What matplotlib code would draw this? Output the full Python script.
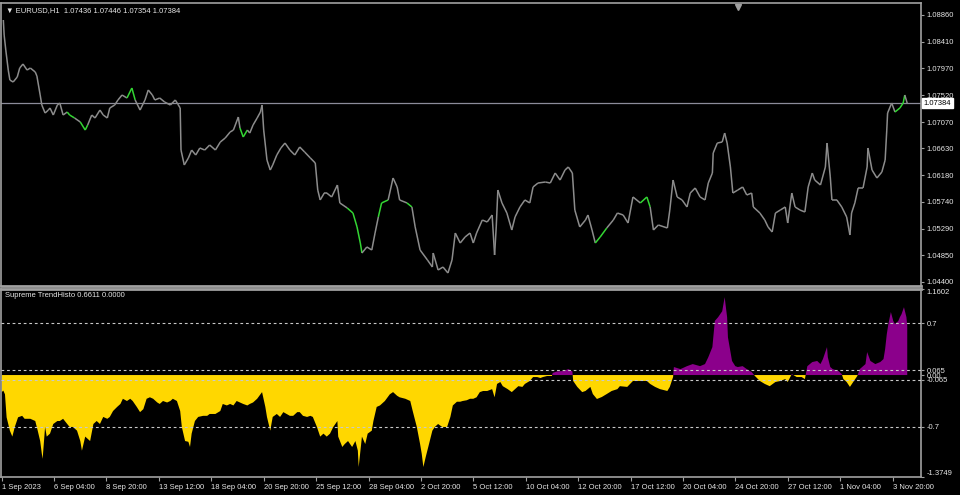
import matplotlib
matplotlib.use('Agg')
import numpy as np
import matplotlib.pyplot as plt
from matplotlib.collections import LineCollection

plt.rcParams['font.family'] = ['Liberation Sans', 'DejaVu Sans']
plt.rcParams['font.size'] = 5.5

## Donnees : prix EURUSD H1 (index de barre horaire) et histogramme

price_bar = [2, 3, 5, 8, 10, 14, 19, 22, 26, 31, 35, 41, 43, 47, 49, 53, 57, 59, 63, 68,
             71, 75, 80, 83, 89, 96, 102, 105, 110, 114, 120, 124, 129, 132, 138, 142, 147, 153, 159, 163,
             169, 175, 179, 184, 187, 193, 199, 206, 212, 215, 218, 219, 223, 228, 232, 237, 242, 248, 254, 261,
             267, 273, 279, 283, 289, 291, 295, 300, 303, 307, 312, 316, 318, 320, 324, 328, 331, 336, 341, 346,
             352, 358, 364, 370, 377, 383, 386, 389, 394, 397, 403, 410, 413, 422, 429, 434, 438, 440, 446, 452,
             456, 460, 464, 472, 478, 483, 486, 495, 501, 505, 511, 520, 526, 527, 533, 539, 545, 550, 554, 560,
             566, 572, 576, 580, 587, 593, 599, 602, 604, 606, 611, 617, 623, 627, 633, 639, 645, 649, 655, 664,
             670, 676, 682, 688, 692, 697, 700, 706, 713, 716, 721, 725, 731, 739, 747, 752, 759, 765, 771, 780,
             788, 792, 796, 802, 813, 816, 820, 825, 831, 837, 841, 847, 853, 859, 863, 868, 869, 874, 880, 883,
             886, 890, 893, 899, 905, 910, 916, 918, 926, 932, 936, 941, 945, 951, 957, 960, 965, 969, 975, 981,
             985, 990, 993, 1000, 1006, 1008, 1012, 1014, 1020, 1026, 1032, 1036, 1038, 1042, 1046, 1052, 1057, 1058, 1063, 1069,
             1075, 1079, 1081, 1082, 1087, 1091, 1097, 1101, 1103, 1106]

price = [1.08776, 1.08525, 1.08275, 1.0794, 1.07773, 1.0774, 1.07824, 1.07974, 1.08041, 1.0794,
         1.07974, 1.07907, 1.0784, 1.07523, 1.07356, 1.07222, 1.07272, 1.07306, 1.07189, 1.07356,
         1.07389, 1.07189, 1.07239, 1.07189, 1.07139, 1.07072, 1.06938, 1.07022, 1.07189, 1.07139,
         1.07272, 1.07189, 1.07139, 1.07306, 1.07356, 1.0744, 1.07523, 1.07473, 1.0764, 1.0744,
         1.07272, 1.0744, 1.07607, 1.07523, 1.0744, 1.07473, 1.07406, 1.07356, 1.0744, 1.07373,
         1.07306, 1.06604, 1.06354, 1.06471, 1.06604, 1.06521, 1.06638, 1.06604, 1.06688, 1.06604,
         1.06738, 1.06805, 1.06905, 1.06938, 1.07156, 1.06972, 1.06822, 1.06938, 1.06888, 1.07022,
         1.07139, 1.07239, 1.07356, 1.06938, 1.06437, 1.0627, 1.06354, 1.06521, 1.06638, 1.06721,
         1.06604, 1.06521, 1.06655, 1.06571, 1.06471, 1.06387, 1.05936, 1.0577, 1.05886, 1.05886,
         1.0582, 1.0602, 1.0572, 1.05636, 1.05552, 1.05319, 1.05051, 1.04884, 1.04985, 1.04934,
         1.05218, 1.05486, 1.0572, 1.0577, 1.06137, 1.05987, 1.0577, 1.0572, 1.05653, 1.05319,
         1.04934, 1.04767, 1.0465, 1.04884, 1.046, 1.0465, 1.0455, 1.04767, 1.05218, 1.05051,
         1.05152, 1.05218, 1.05051, 1.05218, 1.05435, 1.05402, 1.05519, 1.04851, 1.05319, 1.05936,
         1.0572, 1.05552, 1.05268, 1.05486, 1.05653, 1.0577, 1.0572, 1.05987, 1.06053, 1.0607,
         1.06053, 1.0622, 1.06103, 1.0627, 1.06321, 1.0622, 1.05602, 1.05319, 1.05435, 1.05519,
         1.05268, 1.05051, 1.05152, 1.05302, 1.05435, 1.05552, 1.05519, 1.05385, 1.0582, 1.0572,
         1.0582, 1.05653, 1.05268, 1.05352, 1.05302, 1.05602, 1.06103, 1.0582, 1.0577, 1.05653,
         1.05886, 1.0597, 1.0582, 1.0577, 1.06053, 1.0622, 1.06554, 1.06721, 1.06738, 1.06888,
         1.06721, 1.06321, 1.05886, 1.05936, 1.05987, 1.05853, 1.05886, 1.05653, 1.05552, 1.05435,
         1.05319, 1.05235, 1.05552, 1.05602, 1.05653, 1.05385, 1.05886, 1.05653, 1.05602, 1.05569,
         1.05987, 1.0622, 1.06103, 1.0602, 1.06321, 1.06721, 1.06154, 1.0577, 1.0577, 1.05653,
         1.05486, 1.05185, 1.05552, 1.0572, 1.0597, 1.0597, 1.06321, 1.06638, 1.0627, 1.06137,
         1.06237, 1.06437, 1.06938, 1.07222, 1.07389, 1.07239, 1.07306, 1.07389, 1.07523, 1.07384]

# zones ou la courbe est verte
green_ranges = [(80, 86), (99, 104), (153, 159), (294, 297), (423, 432), (433, 439),
                (464, 471), (495, 499), (730, 735), (786, 790), (1095, 1101)]

histo_bar = [0, 2, 4, 6, 10, 13, 16, 20, 25, 28, 35, 41, 44, 47, 49, 50, 53, 55, 59, 63,
             68, 71, 75, 80, 83, 87, 92, 96, 98, 102, 108, 112, 116, 120, 124, 129, 132, 136, 141, 145,
             148, 153, 157, 160, 165, 169, 173, 177, 181, 185, 190, 193, 197, 202, 206, 209, 214, 218, 220, 224,
             228, 230, 232, 236, 240, 246, 251, 254, 261, 267, 270, 275, 279, 283, 287, 291, 295, 300, 303, 307,
             312, 316, 318, 322, 324, 328, 331, 336, 340, 344, 348, 352, 356, 361, 364, 368, 373, 377, 380, 385,
             389, 393, 397, 401, 405, 410, 411, 416, 419, 423, 428, 432, 435, 436, 440, 444, 447, 452, 454, 458,
             462, 468, 474, 478, 483, 486, 493, 499, 502, 507, 511, 513, 515, 518, 521, 526, 529, 533, 538, 544,
             548, 551, 556, 560, 563, 568, 572, 576, 580, 584, 588, 593, 599, 602, 605, 609, 612, 618, 623, 627,
             631, 636, 639, 645, 649, 654, 658, 661, 666, 672, 673, 679, 686, 692, 697, 698, 703, 709, 713, 719,
             722, 727, 733, 739, 745, 752, 755, 764, 771, 780, 788, 792, 798, 804, 813, 816, 820, 821, 829, 837,
             844, 853, 859, 863, 868, 871, 875, 880, 883, 886, 887, 892, 896, 899, 905, 910, 916, 920, 926, 932,
             938, 945, 951, 957, 960, 965, 971, 977, 981, 984, 990, 996, 1000, 1003, 1008, 1009, 1012, 1015, 1022, 1026,
             1028, 1032, 1036, 1040, 1045, 1048, 1055, 1057, 1061, 1067, 1073, 1077, 1079, 1081, 1083, 1086, 1089, 1091, 1095, 1097,
             1099, 1102, 1105, 1106]

histo = [-0.23, -0.21, -0.26, -0.57, -0.75, -0.83, -0.70, -0.57, -0.55, -0.59,
         -0.59, -0.62, -0.75, -0.89, -1.06, -1.13, -0.70, -0.83, -0.79, -0.66,
         -0.62, -0.62, -0.59, -0.66, -0.70, -0.70, -0.75, -0.89, -1.02, -0.83,
         -0.89, -0.66, -0.62, -0.66, -0.565, -0.59, -0.565, -0.485, -0.43, -0.39,
         -0.32, -0.35, -0.32, -0.35, -0.43, -0.50, -0.46, -0.32, -0.30, -0.32,
         -0.37, -0.39, -0.35, -0.37, -0.35, -0.32, -0.35, -0.485, -0.70, -0.89,
         -0.90, -0.97, -0.79, -0.62, -0.565, -0.55, -0.55, -0.525, -0.525, -0.485,
         -0.39, -0.41, -0.39, -0.41, -0.35, -0.37, -0.39, -0.41, -0.39, -0.37,
         -0.32, -0.26, -0.23, -0.43, -0.565, -0.75, -0.565, -0.525, -0.565, -0.50,
         -0.525, -0.55, -0.55, -0.50, -0.50, -0.55, -0.565, -0.55, -0.565, -0.70,
         -0.83, -0.79, -0.83, -0.79, -0.70, -0.62, -0.83, -0.97, -0.93, -0.89,
         -0.97, -0.89, -1.02, -1.24, -0.83, -0.93, -0.79, -0.75, -0.62, -0.43,
         -0.41, -0.35, -0.26, -0.23, -0.28, -0.30, -0.32, -0.35, -0.485, -0.70,
         -0.93, -1.06, -1.24, -1.10, -0.97, -0.75, -0.70, -0.66, -0.70, -0.70,
         -0.565, -0.41, -0.36, -0.36, -0.35, -0.34, -0.32, -0.32, -0.30, -0.23,
         -0.215, -0.215, -0.19, -0.30, -0.12, -0.094, -0.15, -0.19, -0.23, -0.19,
         -0.15, -0.16, -0.12, -0.08, -0.027, -0.027, -0.04, -0.027, -0.013, -0.013,
         0.03, 0.05, 0.054, 0.08, 0.05, -0.08, -0.16, -0.23, -0.215, -0.16,
         -0.256, -0.323, -0.296, -0.256, -0.215, -0.19, -0.15, -0.16, -0.08, -0.08,
         -0.08, -0.12, -0.16, -0.19, -0.215, -0.16, -0.027, 0.108, 0.08, 0.12,
         0.148, 0.12, 0.148, 0.24, 0.377, 0.73, 0.78, 0.86, 1.05, 0.78,
         0.51, 0.19, 0.12, 0.108, 0.12, 0.08, 0.04, -0.013, -0.08, -0.12,
         -0.15, -0.094, -0.08, -0.054, -0.094, 0.013, -0.027, -0.027, -0.054, 0.12,
         0.175, 0.19, 0.148, 0.215, 0.377, 0.24, 0.108, 0.08, 0.054, 0.013,
         -0.054, -0.094, -0.16, -0.094, -0.013, 0.08, 0.148, 0.31, 0.19, 0.148,
         0.175, 0.215, 0.35, 0.55, 0.69, 0.85, 0.727, 0.69, 0.727, 0.78,
         0.82, 0.915, 0.78, 0.66]

price_ticks = [1.08860, 1.08410, 1.07970, 1.07520, 1.07070, 1.06630, 1.06180, 1.05740, 1.05290, 1.04850, 1.04400]
histo_ticks = [1.1602, 0.7, 0.065, 0.0, -0.065, -0.7, -1.3749]
histo_tick_labels = ['1.1602', '0.7', '0.065', '0.00', '-0.065', '-0.7', '-1.3749']
levels = [0.7, 0.065, -0.065, -0.7]
last_price = 1.07384

date_labels = ['1 Sep 2023', '6 Sep 04:00', '8 Sep 20:00', '13 Sep 12:00', '18 Sep 04:00', '20 Sep 20:00',
               '25 Sep 12:00', '28 Sep 04:00', '2 Oct 20:00', '5 Oct 12:00', '10 Oct 04:00', '12 Oct 20:00',
               '17 Oct 12:00', '20 Oct 04:00', '24 Oct 20:00', '27 Oct 12:00', '1 Nov 04:00', '3 Nov 20:00']
date_bars = [64 * k for k in range(len(date_labels))]

## Trace

W, H = 960, 495
txt = '#E6E6E6'
edge = '#A0A0A0'
x_lim = (-0.85, 1122.8)

fig = plt.figure(figsize=(9.6, 4.95), dpi=100, facecolor='black')
ax1 = fig.add_axes([1 / W, 1 - 286 / H, 920 / W, 283 / H], facecolor='black')
ax2 = fig.add_axes([1 / W, 1 - 477 / H, 920 / W, 188 / H], facecolor='black')

for ax in (ax1, ax2):
    for s in ax.spines.values():
        s.set_color(edge)
        s.set_linewidth(1.2)
    ax.set_xlim(*x_lim)
    ax.yaxis.tick_right()
    ax.tick_params(axis='y', colors=txt, length=2, width=0.8, pad=2, labelsize=5.5)
    ax.tick_params(axis='y', color=edge)
ax1.spines['bottom'].set_linewidth(2)
ax2.spines['top'].set_linewidth(2)

# prix
pb = np.array(price_bar, dtype=float)
pp = np.array(price)
pts = np.column_stack([pb, pp])
segs = np.stack([pts[:-1], pts[1:]], axis=1)
mids = (pb[:-1] + pb[1:]) / 2
cols = []
for m in mids:
    g = any(lo - 2 <= m <= hi + 2 for lo, hi in green_ranges)
    cols.append('#33D633' if g else '#8C8C8C')
ax1.add_collection(LineCollection(segs, colors=cols, linewidths=1.1))
ax1.axhline(last_price, color='#8C8C9A', lw=0.9, zorder=1)
ax1.set_ylim(1.04333, 1.0906)
ax1.set_yticks(price_ticks)
ax1.set_yticklabels(['%.5f' % t for t in price_ticks])
ax1.set_xticks([])
ax1.text(1.003, last_price, '%.5f' % last_price, transform=ax1.get_yaxis_transform(),
         ha='left', va='center', color='black', fontsize=5.5,
         bbox=dict(boxstyle='square,pad=0.2', fc='white', ec='white'))
ax1.text(0.005, 0.985, '\u25BC EURUSD,H1  1.07436 1.07446 1.07354 1.07384', transform=ax1.transAxes,
         color=txt, va='top', ha='left', fontsize=5.5)
ax1.plot([899], [0.985], transform=ax1.get_xaxis_transform(), marker='v', color=edge,
         markersize=4, clip_on=False)

# histogramme
hb = np.array(histo_bar, dtype=float)
hv = np.array(histo)
ax2.fill_between(hb, 0, hv, where=hv <= 0, interpolate=True, color='#FFD700', lw=0)
ax2.fill_between(hb, 0, hv, where=hv >= 0, interpolate=True, color='#8B008B', lw=0)
for lv in levels:
    ax2.axhline(lv, color='#C8C8C8', lw=0.8, ls=(0, (2.5, 2.5)), zorder=3)
ax2.set_ylim(-1.3749, 1.1602)
ax2.set_yticks(histo_ticks)
ax2.set_yticklabels(histo_tick_labels)
lab = ax2.get_yticklabels()
lab[0].set_va('top')
lab[-1].set_va('bottom')
ax2.set_xticks(date_bars)
ax2.set_xticklabels(date_labels, ha='left')
ax2.tick_params(axis='x', colors=txt, length=3, width=0.8, pad=2, labelsize=5.5)
ax2.tick_params(axis='x', color=edge)
ax2.text(0.004, 0.985, 'Supreme TrendHisto 0.6611 0.0000', transform=ax2.transAxes,
         color=txt, va='top', ha='left', fontsize=5.5)

fig.savefig('out.png', dpi=100, facecolor='black')
